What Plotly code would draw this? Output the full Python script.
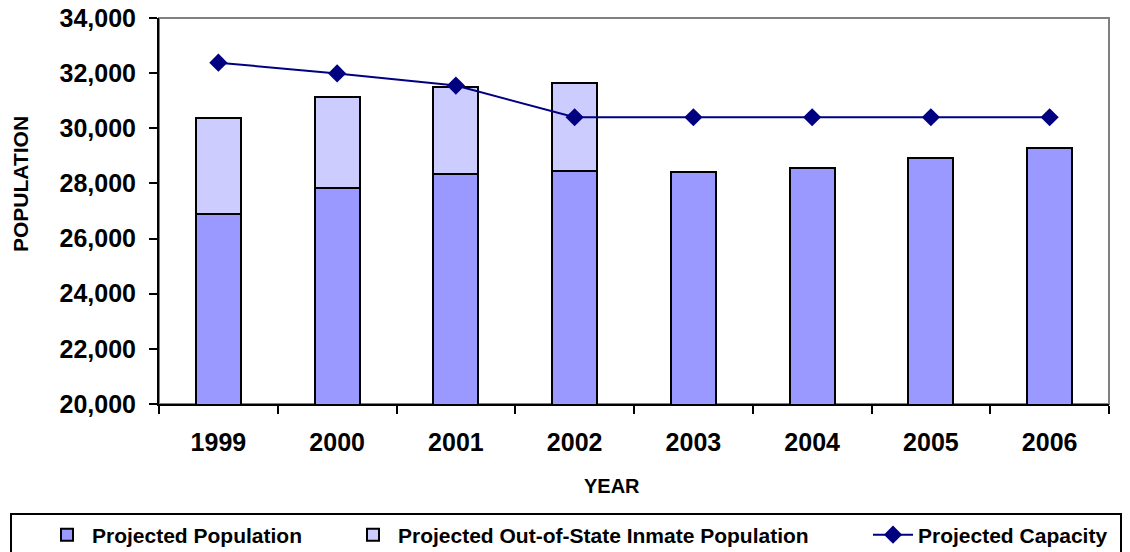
import plotly.graph_objects as go

years = ["1999", "2000", "2001", "2002", "2003", "2004", "2005", "2006"]
projected_population = [26900, 27850, 28360, 28440, 28420, 28560, 28920, 29290]
out_of_state = [3490, 3280, 3130, 3200, None, None, None, None]
projected_capacity = [32380, 31990, 31550, 30400, 30400, 30400, 30400, 30400]

FONT = "Liberation Sans, Arial, sans-serif"
W, H = 1130, 552
L, R, T, B = 159, 21, 18, 148
PW = W - L - R
PH = H - T - B


def px_x(p):
    return (p - L) / PW


def px_y(p):
    return (H - B - p) / PH


fig = go.Figure()
fig.add_trace(go.Bar(
    x=years, y=projected_population, name="Projected Population",
    marker=dict(color="#9999FF", line=dict(color="black", width=2)),
    width=0.38, legend="legend",
))
fig.add_trace(go.Bar(
    x=years, y=out_of_state, name="Projected Out-of-State Inmate Population",
    marker=dict(color="#CCCCFF", line=dict(color="black", width=2)),
    width=0.38, legend="legend2",
))
fig.add_trace(go.Scatter(
    x=years, y=projected_capacity, name="Projected Capacity",
    mode="lines+markers",
    line=dict(color="#000080", width=2),
    marker=dict(symbol="diamond", size=14, color="#000080"),
    legend="legend3",
))

tickfont = dict(family=FONT, size=25, color="black", weight=700)
legfont = dict(family=FONT, size=21, color="black", weight=700)

leg_common = dict(orientation="h", yanchor="middle", y=px_y(535), xanchor="left",
                  bgcolor="rgba(0,0,0,0)", borderwidth=0, font=legfont,
                  itemwidth=40)

fig.update_layout(
    width=W, height=H,
    margin=dict(l=L, r=R, t=T, b=B, autoexpand=False),
    paper_bgcolor="white", plot_bgcolor="white",
    barmode="stack",
    showlegend=True,
    legend=dict(leg_common, x=px_x(42)),
    legend2=dict(leg_common, x=px_x(348)),
    legend3=dict(leg_common, x=px_x(868)),
    xaxis=dict(
        type="category", showline=True, linecolor="black", linewidth=2,
        ticks="outside", tickson="boundaries", ticklen=8, tickwidth=2, tickcolor="black",
        tickfont=tickfont, ticklabelstandoff=15, showgrid=False, zeroline=False,
        automargin=False,
    ),
    yaxis=dict(
        range=[20000, 34000], dtick=2000, tickformat=",",
        showline=True, linecolor="black", linewidth=2,
        ticks="outside", ticklen=8, tickwidth=2, tickcolor="black",
        tickfont=tickfont, ticklabelstandoff=8, showgrid=False, zeroline=False,
        automargin=False,
    ),
    shapes=[
        dict(type="rect", xref="paper", yref="paper", x0=0, x1=1, y0=0, y1=1,
             line=dict(color="#808080", width=2), layer="below"),
        dict(type="rect", xref="paper", yref="paper",
             x0=px_x(11), x1=px_x(1121), y0=px_y(514), y1=px_y(570),
             line=dict(color="black", width=2), fillcolor="rgba(0,0,0,0)"),
    ],
    annotations=[
        dict(text="YEAR", xref="paper", yref="paper", x=px_x(612), y=px_y(486),
             xanchor="center", yanchor="middle", showarrow=False,
             font=dict(family=FONT, size=20, color="black", weight=700)),
        dict(text="POPULATION", xref="paper", yref="paper", x=px_x(20), y=px_y(184),
             xanchor="center", yanchor="middle", showarrow=False, textangle=-90,
             font=dict(family=FONT, size=21, color="black", weight=700)),
    ],
)

fig.write_html("out.html")
